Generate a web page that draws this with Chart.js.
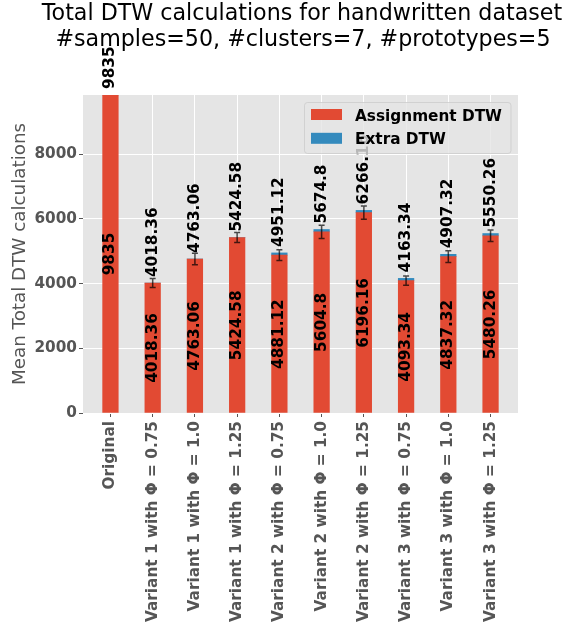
<!DOCTYPE html>
<html><head><meta charset="utf-8">
<script src="https://cdn.jsdelivr.net/npm/chart.js@4"></script>
<style>html,body{margin:0;padding:0;background:#fff;}#wrap{width:566px;height:627px;}</style>
</head><body><div id="wrap"><canvas id="c" width="566" height="627"></canvas></div>
<script>
const categories = ['Original','Variant 1 with \u03A6 = 0.75','Variant 1 with \u03A6 = 1.0','Variant 1 with \u03A6 = 1.25','Variant 2 with \u03A6 = 0.75','Variant 2 with \u03A6 = 1.0','Variant 2 with \u03A6 = 1.25','Variant 3 with \u03A6 = 0.75','Variant 3 with \u03A6 = 1.0','Variant 3 with \u03A6 = 1.25'];
const assignmentDTW = [9835, 4018.36, 4763.06, 5424.58, 4881.12, 5604.8, 6196.16, 4093.34, 4837.32, 5480.26];
const extraDTW = [0, 0, 0, 0, 70, 70, 70, 70, 70, 70];
const errorDTW = [0, 140, 180, 155, 165, 205, 205, 145, 180, 180];
const yTicks = [0, 2000, 4000, 6000, 8000];
const titleLines = ['Total DTW calculations for handwritten dataset', '#samples=50, #clusters=7, #prototypes=5'];
const yAxisTitle = 'Mean Total DTW calculations';
const seriesNames = ['Assignment DTW', 'Extra DTW'];

const FONT = '"DejaVu Sans", sans-serif';
const RED = '#E24A33', BLUE = '#348ABD';
const fmt = v => String(Math.round(v * 100) / 100);

const bgPlugin = {
  id: 'bg',
  beforeDraw(chart) {
    const {ctx, chartArea: a} = chart;
    ctx.save(); ctx.fillStyle = '#E5E5E5';
    ctx.fillRect(a.left, a.top, a.right - a.left, a.bottom - a.top);
    ctx.restore();
  }
};

const annotPlugin = {
  id: 'annot',
  afterDatasetsDraw(chart) {
    const {ctx} = chart;
    const xs = chart.scales.x, ys = chart.scales.y;
    ctx.save();
    ctx.strokeStyle = 'rgba(0,0,0,0.7)';
    ctx.lineWidth = 1.5;
    errorDTW.forEach((e, i) => {
      if (!e) return;
      const x = xs.getPixelForValue(i);
      const yc = assignmentDTW[i];
      const y1 = ys.getPixelForValue(yc - e), y2 = ys.getPixelForValue(yc + e);
      ctx.beginPath();
      ctx.moveTo(x, y1); ctx.lineTo(x, y2);
      ctx.moveTo(x - 3, y1); ctx.lineTo(x + 3, y1);
      ctx.moveTo(x - 3, y2); ctx.lineTo(x + 3, y2);
      ctx.stroke();
    });
    ctx.fillStyle = '#000';
    ctx.font = 'bold 15.3px ' + FONT;
    ctx.textBaseline = 'middle';
    assignmentDTW.forEach((v, i) => {
      const x = xs.getPixelForValue(i);
      const y0 = ys.getPixelForValue(0), y1 = ys.getPixelForValue(v);
      ctx.save();
      ctx.translate(x, (y0 + y1) / 2); ctx.rotate(-Math.PI / 2);
      ctx.textAlign = 'center';
      ctx.fillText(fmt(v), 0, 0);
      ctx.restore();
      const tot = v + extraDTW[i];
      const yt = ys.getPixelForValue(tot);
      ctx.save();
      ctx.translate(x, yt - 6); ctx.rotate(-Math.PI / 2);
      ctx.textAlign = 'left';
      ctx.fillText(fmt(tot), 0, 0);
      ctx.restore();
    });
    ctx.restore();
  },
  afterDraw(chart) {
    const {ctx} = chart;
    ctx.save();
    ctx.fillStyle = '#000';
    ctx.font = '22.2px ' + FONT;
    ctx.textAlign = 'center';
    ctx.textBaseline = 'alphabetic';
    ctx.fillText(titleLines[0], 302, 20);
    ctx.fillText(titleLines[1], 303, 46);
    const lx = 304.5, ly = 102.5, lw = 206.5, lh = 51, r = 3;
    ctx.beginPath();
    ctx.moveTo(lx + r, ly); ctx.lineTo(lx + lw - r, ly); ctx.arcTo(lx + lw, ly, lx + lw, ly + r, r);
    ctx.lineTo(lx + lw, ly + lh - r); ctx.arcTo(lx + lw, ly + lh, lx + lw - r, ly + lh, r);
    ctx.lineTo(lx + r, ly + lh); ctx.arcTo(lx, ly + lh, lx, ly + lh - r, r);
    ctx.lineTo(lx, ly + r); ctx.arcTo(lx, ly, lx + r, ly, r);
    ctx.closePath();
    ctx.fillStyle = 'rgba(229,229,229,0.8)'; ctx.fill();
    ctx.strokeStyle = 'rgba(204,204,204,0.8)'; ctx.lineWidth = 1; ctx.stroke();
    const cols = [RED, BLUE];
    ctx.font = 'bold 15.3px ' + FONT;
    ctx.textAlign = 'left'; ctx.textBaseline = 'alphabetic';
    seriesNames.forEach((n, k) => {
      const yy = 114.5 + k * 23.8;
      ctx.fillStyle = cols[k];
      ctx.fillRect(311, yy - 5.5, 31, 11);
      ctx.fillStyle = '#000';
      ctx.fillText(n, 355, yy + 6);
    });
    ctx.restore();
  }
};

new Chart(document.getElementById('c'), {
  type: 'bar',
  data: {
    datasets: [
      {label: seriesNames[0], data: assignmentDTW.map((v, i) => ({x: i, y: v})), backgroundColor: RED, barThickness: 15.6},
      {label: seriesNames[1], data: extraDTW.map((v, i) => ({x: i, y: v})), backgroundColor: BLUE, barThickness: 15.6}
    ]
  },
  options: {
    responsive: false, animation: false, devicePixelRatio: 1,
    layout: {padding: {top: 95, right: 48, left: 0, bottom: 0}},
    plugins: {legend: {display: false}, tooltip: {enabled: false}, title: {display: false}},
    scales: {
      x: {
        type: 'linear', min: -0.65, max: 9.65, stacked: true, offset: false,
        afterBuildTicks: s => { s.ticks = categories.map((_, i) => ({value: i})); },
        afterFit: s => { s.height = 214; },
        border: {display: false},
        grid: {offset: false, color: '#FFFFFF', lineWidth: 1, drawTicks: true, tickLength: 4, tickColor: '#555555', tickWidth: 1},
        ticks: {autoSkip: false, minRotation: 90, maxRotation: 90, padding: 4, color: '#555555',
          font: {family: FONT, size: 15.3, weight: 'bold'}, callback: v => categories[v]}
      },
      y: {
        min: 0, max: 9835, stacked: true,
        afterBuildTicks: s => { s.ticks = yTicks.map(v => ({value: v})); },
        afterFit: s => { s.width = 83; },
        border: {display: false},
        grid: {color: '#FFFFFF', lineWidth: 1, drawTicks: true, tickLength: 4, tickColor: '#555555', tickWidth: 1},
        ticks: {padding: 2, color: '#555555', font: {family: FONT, size: 15.3, weight: 'bold'}, callback: v => String(v)},
        title: {display: true, text: yAxisTitle, color: '#555555', font: {family: FONT, size: 18.3}, padding: {top: 9, bottom: 0}}
      }
    }
  },
  plugins: [bgPlugin, annotPlugin]
});
</script></body></html>
